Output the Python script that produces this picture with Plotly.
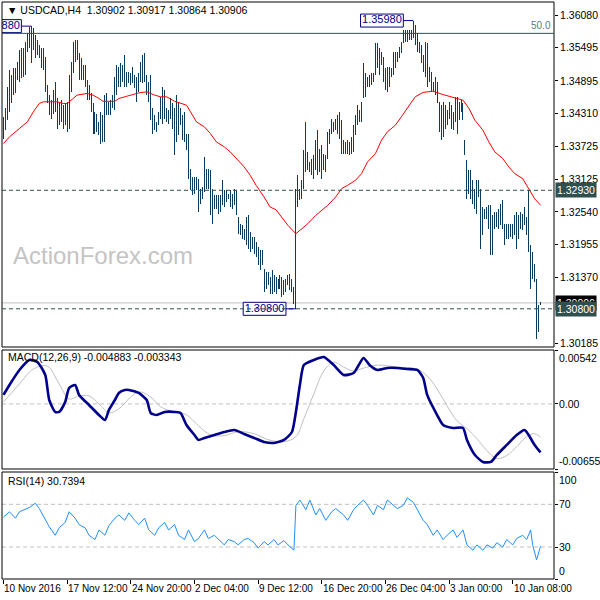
import plotly.graph_objects as go

# ---------------- data ----------------
symbol = "USDCAD,H4"
ohlc_now = [1.30902, 1.30917, 1.30864, 1.30906]   # open high low close of last bar

bar_high = [
    1.3425, 1.3440, 1.3479, 1.3509, 1.3500, 1.3512, 1.3512, 1.3524, 1.3545, 1.3548,
    1.3548, 1.3560, 1.3575, 1.3587, 1.3588, 1.3584, 1.3572, 1.3563, 1.3554, 1.3548,
    1.3548, 1.3533, 1.3482, 1.3464, 1.3455, 1.3473, 1.3488, 1.3458, 1.3452, 1.3455,
    1.3446, 1.3449, 1.3452, 1.3500, 1.3524, 1.3560, 1.3563, 1.3563, 1.3539, 1.3530,
    1.3518, 1.3518, 1.3491, 1.3482, 1.3467, 1.3449, 1.3434, 1.3431, 1.3416, 1.3434,
    1.3428, 1.3464, 1.3467, 1.3452, 1.3455, 1.3464, 1.3497, 1.3518, 1.3515, 1.3521,
    1.3518, 1.3536, 1.3506, 1.3506, 1.3503, 1.3515, 1.3500, 1.3497, 1.3503, 1.3524,
    1.3536, 1.3539, 1.3500, 1.3488, 1.3500, 1.3440, 1.3428, 1.3416, 1.3434, 1.3461,
    1.3479, 1.3473, 1.3440, 1.3437, 1.3458, 1.3449, 1.3440, 1.3464, 1.3452, 1.3440,
    1.3428, 1.3434, 1.3395, 1.3395, 1.3332, 1.3317, 1.3317, 1.3317, 1.3314, 1.3296,
    1.3299, 1.3353, 1.3332, 1.3332, 1.3329, 1.3296, 1.3284, 1.3284, 1.3284, 1.3284,
    1.3311, 1.3293, 1.3293, 1.3287, 1.3293, 1.3287, 1.3296, 1.3293, 1.3245, 1.3233,
    1.3230, 1.3224, 1.3245, 1.3248, 1.3218, 1.3209, 1.3209, 1.3200, 1.3191, 1.3185,
    1.3185, 1.3152, 1.3146, 1.3146, 1.3137, 1.3149, 1.3140, 1.3137, 1.3134, 1.3140,
    1.3137, 1.3131, 1.3134, 1.3140, 1.3143, 1.3134, 1.3119, 1.3296, 1.3320, 1.3296,
    1.3311, 1.3365, 1.3416, 1.3362, 1.3344, 1.3350, 1.3356, 1.3383, 1.3401, 1.3368,
    1.3374, 1.3359, 1.3356, 1.3398, 1.3404, 1.3422, 1.3416, 1.3422, 1.3428, 1.3434,
    1.3419, 1.3383, 1.3380, 1.3383, 1.3380, 1.3389, 1.3410, 1.3428, 1.3446, 1.3437,
    1.3452, 1.3521, 1.3503, 1.3497, 1.3500, 1.3503, 1.3503, 1.3557, 1.3557, 1.3548,
    1.3542, 1.3533, 1.3512, 1.3515, 1.3515, 1.3512, 1.3542, 1.3542, 1.3542, 1.3551,
    1.3560, 1.3581, 1.3581, 1.3581, 1.3581, 1.3581, 1.3598, 1.3590, 1.3575, 1.3560,
    1.3554, 1.3536, 1.3560, 1.3557, 1.3515, 1.3506, 1.3488, 1.3497, 1.3488, 1.3452,
    1.3446, 1.3452, 1.3446, 1.3437, 1.3452, 1.3446, 1.3434, 1.3461, 1.3461, 1.3452,
    1.3455, 1.3449, 1.3383, 1.3347, 1.3329, 1.3329, 1.3311, 1.3296, 1.3311, 1.3311,
    1.3296, 1.3263, 1.3260, 1.3263, 1.3266, 1.3266, 1.3248, 1.3254, 1.3254, 1.3260,
    1.3269, 1.3275, 1.3233, 1.3233, 1.3233, 1.3233, 1.3233, 1.3248, 1.3254, 1.3248,
    1.3254, 1.3251, 1.3263, 1.3245, 1.3293, 1.3194, 1.3182, 1.3161, 1.3134, 1.3086,
    1.30917,
]
bar_low = [
    1.3386, 1.3401, 1.3419, 1.3434, 1.3449, 1.3464, 1.3467, 1.3491, 1.3488, 1.3494,
    1.3497, 1.3500, 1.3542, 1.3548, 1.3521, 1.3545, 1.3530, 1.3536, 1.3530, 1.3512,
    1.3509, 1.3470, 1.3449, 1.3428, 1.3422, 1.3431, 1.3434, 1.3404, 1.3410, 1.3416,
    1.3404, 1.3410, 1.3398, 1.3404, 1.3470, 1.3503, 1.3524, 1.3527, 1.3491, 1.3491,
    1.3491, 1.3479, 1.3455, 1.3455, 1.3434, 1.3395, 1.3395, 1.3398, 1.3392, 1.3377,
    1.3380, 1.3380, 1.3428, 1.3428, 1.3428, 1.3440, 1.3437, 1.3464, 1.3479, 1.3479,
    1.3488, 1.3479, 1.3479, 1.3485, 1.3482, 1.3485, 1.3476, 1.3452, 1.3470, 1.3488,
    1.3485, 1.3488, 1.3464, 1.3452, 1.3419, 1.3395, 1.3401, 1.3398, 1.3410, 1.3422,
    1.3413, 1.3422, 1.3416, 1.3413, 1.3422, 1.3404, 1.3356, 1.3380, 1.3392, 1.3410,
    1.3383, 1.3380, 1.3365, 1.3314, 1.3293, 1.3284, 1.3287, 1.3293, 1.3254, 1.3269,
    1.3278, 1.3290, 1.3296, 1.3296, 1.3248, 1.3233, 1.3260, 1.3260, 1.3251, 1.3254,
    1.3266, 1.3263, 1.3272, 1.3278, 1.3263, 1.3260, 1.3266, 1.3248, 1.3215, 1.3212,
    1.3206, 1.3203, 1.3194, 1.3188, 1.3182, 1.3188, 1.3179, 1.3173, 1.3158, 1.3149,
    1.3158, 1.3110, 1.3116, 1.3122, 1.3107, 1.3107, 1.3110, 1.3107, 1.3116, 1.3116,
    1.3101, 1.3104, 1.3110, 1.3122, 1.3113, 1.3110, 1.3089, 1.3080, 1.3263, 1.3275,
    1.3278, 1.3296, 1.3326, 1.3329, 1.3326, 1.3320, 1.3314, 1.3329, 1.3320, 1.3326,
    1.3314, 1.3329, 1.3326, 1.3350, 1.3377, 1.3395, 1.3398, 1.3401, 1.3395, 1.3386,
    1.3359, 1.3359, 1.3359, 1.3359, 1.3356, 1.3359, 1.3362, 1.3392, 1.3410, 1.3416,
    1.3416, 1.3458, 1.3461, 1.3479, 1.3479, 1.3482, 1.3488, 1.3500, 1.3512, 1.3500,
    1.3518, 1.3488, 1.3473, 1.3470, 1.3479, 1.3497, 1.3500, 1.3512, 1.3524, 1.3530,
    1.3539, 1.3557, 1.3560, 1.3560, 1.3563, 1.3563, 1.3566, 1.3554, 1.3542, 1.3539,
    1.3521, 1.3506, 1.3497, 1.3479, 1.3488, 1.3470, 1.3470, 1.3464, 1.3449, 1.3398,
    1.3383, 1.3389, 1.3404, 1.3410, 1.3422, 1.3404, 1.3401, 1.3416, 1.3395, 1.3419,
    1.3434, 1.3419, 1.3356, 1.3278, 1.3287, 1.3278, 1.3269, 1.3260, 1.3251, 1.3281,
    1.3188, 1.3212, 1.3242, 1.3242, 1.3224, 1.3176, 1.3176, 1.3224, 1.3227, 1.3224,
    1.3230, 1.3224, 1.3194, 1.3206, 1.3206, 1.3209, 1.3206, 1.3212, 1.3188, 1.3206,
    1.3224, 1.3221, 1.3230, 1.3212, 1.3182, 1.3116, 1.3134, 1.3128, 1.3026, 1.3038,
    1.30864,
]

# moving average (red) read at selected bars
ma_bar = [0, 3, 8, 12, 15, 18, 20, 23, 27, 30, 32, 35, 37, 42, 45, 48, 50, 56, 58, 62,
          65, 68, 72, 76, 79, 82, 86, 89, 92, 94, 97, 101, 104, 107, 111, 114, 117, 121, 124, 127,
          131, 134, 137, 140, 143, 147, 150, 153, 157, 160, 163, 167, 170, 173, 177, 180, 183, 187, 190, 193,
          197, 200, 204, 207, 211, 216, 221, 224, 227, 231, 234, 237, 241, 244, 247, 251, 254, 257, 261, 264,
          267, 270]
ma_val = [1.3377, 1.3389, 1.3404, 1.3416, 1.3434, 1.3449, 1.3452, 1.3452, 1.3452, 1.3449,
          1.3449, 1.3458, 1.3464, 1.3467, 1.3464, 1.3458, 1.3453, 1.3453, 1.3458, 1.3462,
          1.3465, 1.3468, 1.3470, 1.3464, 1.3461, 1.3461, 1.3453, 1.3449, 1.3446, 1.3434,
          1.3416, 1.3407, 1.3395, 1.3380, 1.3371, 1.3362, 1.3350, 1.3335, 1.3320, 1.3302,
          1.3281, 1.3263, 1.3258, 1.3245, 1.3230, 1.3215, 1.3224, 1.3233, 1.3248, 1.3257,
          1.3266, 1.3281, 1.3296, 1.3302, 1.3311, 1.3323, 1.3344, 1.3359, 1.3383, 1.3398,
          1.3410, 1.3425, 1.3446, 1.3461, 1.3469, 1.3471, 1.3465, 1.3462, 1.3460, 1.3455,
          1.3440, 1.3419, 1.3401, 1.3380, 1.3362, 1.3350, 1.3335, 1.3323, 1.3314, 1.3296,
          1.3278, 1.3266]

macd_bar = [0, 3, 8, 13, 17, 21, 23, 26, 28, 31, 33, 36, 38, 43, 48, 51, 53, 56, 58, 61,
            63, 68, 72, 74, 77, 81, 86, 89, 92, 96, 98, 101, 106, 111, 116, 121, 126, 131, 136, 141,
            145, 147, 149, 151, 156, 161, 166, 171, 176, 181, 184, 188, 193, 198, 203, 208, 211, 213, 218, 221,
            226, 231, 233, 237, 241, 245, 248, 253, 258, 262, 264, 267, 270]
macd_val = [0.00090, 0.00190, 0.00341, 0.00442, 0.00422, 0.00291, 0.00039, -0.00081, -0.00081, 0.00019,
            0.00160, 0.00190, 0.00090, -0.00011, -0.00112, -0.00162, -0.00061, 0.00039, 0.00110, 0.00140,
            0.00140, 0.00110, 0.00039, -0.00092, -0.00112, -0.00081, -0.00081, -0.00092, -0.00212, -0.00313,
            -0.00363, -0.00343, -0.00313, -0.00283, -0.00263, -0.00303, -0.00343, -0.00383, -0.00393, -0.00363,
            -0.00283, -0.00081, 0.00190, 0.00391, 0.00442, 0.00472, 0.00391, 0.00291, 0.00311, 0.00462,
            0.00391, 0.00341, 0.00361, 0.00361, 0.00351, 0.00341, 0.00261, 0.00090, -0.00112, -0.00212,
            -0.00242, -0.00242, -0.00363, -0.00514, -0.00584, -0.00584, -0.00514, -0.00413, -0.00313, -0.00263,
            -0.00313, -0.00413, -0.004883]
sig_bar = [0, 8, 15, 22, 28, 33, 38, 43, 48, 53, 58, 63, 68, 74, 79, 86, 92, 98, 104, 111,
           118, 126, 133, 141, 147, 151, 156, 161, 166, 171, 176, 181, 188, 198, 208, 213, 218, 223, 228, 233,
           238, 243, 248, 253, 258, 263, 267, 270]
sig_val = [0.0002, 0.0020, 0.0035, 0.0038, 0.0020, 0.0005, 0.0008, 0.0008, 0.0000, -0.0009,
           -0.0005, 0.0005, 0.0012, 0.0007, -0.0003, -0.0008, -0.0011, -0.0022, -0.0031, -0.0032,
           -0.0028, -0.0030, -0.0036, -0.0038, -0.0033, -0.0015, 0.0010, 0.0033, 0.0042, 0.0037,
           0.0033, 0.0036, 0.0039, 0.0037, 0.0035, 0.0028, 0.0015, -0.0002, -0.0017, -0.0025,
           -0.0035, -0.0047, -0.0055, -0.0052, -0.0043, -0.0033, -0.0030, -0.003343]

rsi_bar = [0, 3, 6, 8, 13, 16, 18, 21, 23, 26, 28, 31, 33, 36, 38, 41, 43, 46, 48, 51,
           53, 56, 58, 61, 63, 66, 68, 71, 73, 76, 78, 81, 83, 86, 88, 91, 93, 96, 98, 101,
           103, 106, 108, 111, 113, 116, 118, 121, 123, 126, 128, 131, 133, 136, 138, 141, 143, 146, 147, 149,
           152, 154, 157, 159, 162, 165, 167, 171, 173, 176, 178, 181, 183, 186, 188, 191, 193, 196, 198, 201,
           203, 206, 208, 211, 213, 216, 218, 221, 223, 226, 228, 231, 233, 236, 238, 241, 243, 246, 248, 251,
           253, 256, 258, 261, 263, 265, 266, 268, 270]
rsi_val = [58, 63, 57, 63, 67, 71, 66, 55, 49, 41, 48, 53, 63, 57, 51, 48, 41, 37, 46, 41,
           50, 57, 60, 55, 62, 55, 51, 57, 46, 41, 48, 53, 46, 51, 41, 37, 46, 35, 38, 46,
           38, 41, 37, 32, 37, 35, 32, 37, 38, 34, 29, 35, 32, 37, 32, 36, 32, 27, 69, 74,
           65, 74, 60, 66, 55, 63, 66, 60, 55, 65, 69, 74, 69, 60, 69, 65, 74, 69, 66, 69,
           76, 72, 65, 55, 51, 41, 46, 37, 41, 46, 39, 46, 32, 27, 32, 27, 32, 29, 34, 30,
           37, 32, 38, 41, 37, 46, 32, 18, 30.74]

date_ticks = [0, 32, 64, 96, 128, 160, 192, 224, 256]
date_labels = ["10 Nov 2016", "17 Nov 12:00", "24 Nov 20:00", "2 Dec 04:00", "9 Dec 12:00",
               "16 Dec 20:00", "26 Dec 04:00", "3 Jan 00:00", "10 Jan 08:00"]
price_ticks = [1.36080, 1.35495, 1.34895, 1.34310, 1.33725, 1.33125, 1.32540,
               1.31955, 1.31370, 1.30185]
level_resist = 1.32930
level_support = 1.30800
fib_50 = 1.3575
macd_last, signal_last, rsi_last = -0.004883, -0.003343, 30.7394
macd_max, macd_min = 0.00542, -0.006551
rsi_levels = [70, 30]

# --------------- layout helpers ---------------
W, H = 600, 600
L, R, T, B = 2, 43, 2, 21
PW, PH = W - L - R, H - T - B
PX_PER_BAR = 2.0
PRICE_PER_PX = 0.0001797


def py(p):  # pixel y -> paper y
    return 1 - (p - T) / PH


def pxx(p):  # pixel x -> paper x
    return (p - L) / PW


FONT = "Tahoma, 'Liberation Sans', Arial, sans-serif"
BAR_C = "#0b3c5d"
NAVY = "#000080"
SLATE = "#2f4f4f"

fig = go.Figure()

# OHLC bars (high-low lines)
bx, byv = [], []
for i, (h, l) in enumerate(zip(bar_high, bar_low)):
    bx += [i, i, None]
    byv += [l, h, None]
fig.add_trace(go.Scatter(x=bx, y=byv, mode="lines", line=dict(color=BAR_C, width=1),
                         hoverinfo="skip", xaxis="x", yaxis="y"))
fig.add_trace(go.Scatter(x=ma_bar, y=ma_val, mode="lines", line=dict(color="#ff0000", width=1),
                         hoverinfo="skip", xaxis="x", yaxis="y"))
# MACD
fig.add_trace(go.Scatter(x=sig_bar, y=sig_val, mode="lines", line=dict(color="#c0c0c0", width=1, shape="spline"),
                         hoverinfo="skip", xaxis="x", yaxis="y2"))
fig.add_trace(go.Scatter(x=macd_bar, y=macd_val, mode="lines",
                         line=dict(color="#00008b", width=2.6, shape="spline", smoothing=0.6),
                         hoverinfo="skip", xaxis="x", yaxis="y2"))
# RSI
fig.add_trace(go.Scatter(x=rsi_bar, y=rsi_val, mode="lines", line=dict(color="#1e90ff", width=1),
                         hoverinfo="skip", xaxis="x", yaxis="y3"))

n = len(bar_high)
last_close = ohlc_now[3]
x_lo, x_hi = -0.75, -0.75 + PW / PX_PER_BAR

main_dom = [py(347), 1.0]
macd_dom = [py(469), py(350)]
rsi_dom = [0.0, py(472)]
price_top = 1.36080 + (15 - 2) * PRICE_PER_PX
price_bot = 1.36080 - (347 - 15) * PRICE_PER_PX

axis_common = dict(showgrid=False, zeroline=False, side="right", ticks="outside", ticklen=3,
                   tickcolor="black", showline=False, fixedrange=True)

fig.update_layout(
    width=W, height=H, margin=dict(l=L, r=R, t=T, b=B),
    paper_bgcolor="white", plot_bgcolor="white", showlegend=False,
    xaxis=dict(range=[x_lo, x_hi], anchor="y3", showgrid=False, zeroline=False,
               tickvals=date_ticks, showticklabels=False, ticks="outside", ticklen=4,
               tickcolor="black", showline=False, fixedrange=True),
    yaxis=dict(domain=main_dom, range=[price_bot, price_top], anchor="x",
               tickvals=price_ticks, ticktext=[f"{v:.5f}" for v in price_ticks],
               tickfont=dict(family=FONT, size=10.5, color="black"), **axis_common),
    yaxis2=dict(domain=macd_dom, range=[macd_min, macd_max], anchor="x",
                tickvals=[macd_max, 0, macd_min], showticklabels=False, **axis_common),
    yaxis3=dict(domain=rsi_dom, range=[0, 100.3], anchor="x",
                tickvals=[100, 70, 30, 0], showticklabels=False, **axis_common),
)

shapes = []
# panel frames
for dom in (main_dom, macd_dom, rsi_dom):
    shapes.append(dict(type="rect", xref="paper", yref="paper", x0=0, x1=1, y0=dom[0], y1=dom[1],
                       line=dict(color="black", width=1), layer="above"))
# level lines main
shapes.append(dict(type="line", xref="paper", yref="y", x0=0, x1=1, y0=fib_50, y1=fib_50,
                   line=dict(color=SLATE, width=1)))
shapes.append(dict(type="line", xref="paper", yref="y", x0=0, x1=1, y0=last_close, y1=last_close,
                   line=dict(color="#c0c0c0", width=1), layer="below"))
for lv in (level_resist, level_support):
    shapes.append(dict(type="line", xref="paper", yref="y", x0=0, x1=1, y0=lv, y1=lv,
                       line=dict(color=SLATE, width=1, dash="4px,3px")))
# indicator levels
shapes.append(dict(type="line", xref="paper", yref="y2", x0=0, x1=1, y0=0, y1=0,
                   line=dict(color="#c0c0c0", width=1, dash="4px,3px"), layer="below"))
for lv in rsi_levels:
    shapes.append(dict(type="line", xref="paper", yref="y3", x0=0, x1=1, y0=lv, y1=lv,
                       line=dict(color="#c0c0c0", width=1, dash="4px,3px"), layer="below"))

annotations = []
# high/low marker boxes: box shape + clipped text (like the terminal, clipped at chart edge)
hi_idx = max(range(150, n), key=lambda i: bar_high[i])
hi2_idx = max(range(0, 60), key=lambda i: bar_high[i])
lo_idx = min(range(100, 200), key=lambda i: bar_low[i])
gap_bars = 5            # 10 px connector
box_w_bars = 21.5       # 43 px wide box
box_h = 6.5 * PRICE_PER_PX
box_tx, box_ty, box_tt = [], [], []
for idx, val in ((hi_idx, bar_high[hi_idx]), (hi2_idx, bar_high[hi2_idx]), (lo_idx, bar_low[lo_idx])):
    right = idx - gap_bars
    shapes.append(dict(type="line", xref="x", yref="y", x0=right, x1=idx, y0=val, y1=val,
                       line=dict(color=NAVY, width=1)))
    shapes.append(dict(type="rect", xref="x", yref="y", x0=right - box_w_bars, x1=right,
                       y0=val - box_h, y1=val + box_h, fillcolor="white",
                       line=dict(color=NAVY, width=1), layer="below"))
    box_tx.append(right - box_w_bars / 2)
    box_ty.append(val)
    box_tt.append(f"{val:.5f}")
fig.add_trace(go.Scatter(x=box_tx, y=box_ty, text=box_tt, mode="text", textposition="middle center",
                         textfont=dict(family=FONT, size=11, color=NAVY), hoverinfo="skip",
                         xaxis="x", yaxis="y", cliponaxis=True))

# header texts
annotations.append(dict(x=pxx(5), y=py(10), xref="paper", yref="paper", xanchor="left", yanchor="middle",
                        showarrow=False, font=dict(family=FONT, size=10.5, color="black"),
                        text="\u25BC " + symbol + "  " + " ".join(f"{v:.5f}" for v in ohlc_now)))
annotations.append(dict(x=pxx(6), y=py(357), xref="paper", yref="paper", xanchor="left", yanchor="middle",
                        showarrow=False, font=dict(family=FONT, size=10.5, color="black"),
                        text=f"MACD(12,26,9) {macd_last:.6f} {signal_last:.6f}"))
annotations.append(dict(x=pxx(6), y=py(481), xref="paper", yref="paper", xanchor="left", yanchor="middle",
                        showarrow=False, font=dict(family=FONT, size=10.5, color="black"),
                        text=f"RSI(14) {rsi_last:.4f}"))
# watermark
annotations.append(dict(x=pxx(11), y=py(255), xref="paper", yref="paper", xanchor="left", yanchor="middle",
                        showarrow=False, font=dict(family="'Liberation Sans', Arial, sans-serif", size=24,
                                                   color="#c4c4c4"),
                        text="ActionForex.com"))
# fib label
annotations.append(dict(x=1, y=fib_50, xref="paper", yref="y", xanchor="right", yanchor="bottom",
                        xshift=-1, showarrow=False, font=dict(family=FONT, size=10, color="#5a7a8a"),
                        text="50.0"))
# right price tags
for val, bg in ((last_close, "black"), (level_resist, SLATE), (level_support, SLATE)):
    annotations.append(dict(x=1, y=val, xref="paper", yref="y", xanchor="left", yanchor="middle",
                            xshift=1, showarrow=False, bgcolor=bg, borderpad=1,
                            font=dict(family=FONT, size=10.5, color="white"), text=f"{val:.5f}"))
# MACD / RSI scale labels
lab = dict(family=FONT, size=10.5, color="black")
annotations += [
    dict(x=1, y=1, xref="paper", yref="y2 domain", xanchor="left", yanchor="top", xshift=3,
         showarrow=False, font=lab, text=f"{macd_max:.5f}"),
    dict(x=1, y=0, xref="paper", yref="y2", xanchor="left", yanchor="middle", xshift=3,
         showarrow=False, font=lab, text="0.00"),
    dict(x=1, y=0, xref="paper", yref="y2 domain", xanchor="left", yanchor="bottom", xshift=3,
         showarrow=False, font=lab, text=f"{macd_min:.6f}"),
    dict(x=1, y=1, xref="paper", yref="y3 domain", xanchor="left", yanchor="top", xshift=3,
         showarrow=False, font=lab, text="100"),
    dict(x=1, y=0, xref="paper", yref="y3 domain", xanchor="left", yanchor="bottom", xshift=3,
         showarrow=False, font=lab, text="0"),
]
for lv in rsi_levels:
    annotations.append(dict(x=1, y=lv, xref="paper", yref="y3", xanchor="left", yanchor="middle", xshift=3,
                            showarrow=False, font=lab, text=str(lv)))
# date labels
for t, s in zip(date_ticks, date_labels):
    annotations.append(dict(x=t, y=py(588), xref="x", yref="paper", xanchor="left", yanchor="middle",
                            xshift=-1, showarrow=False, font=dict(family=FONT, size=10, color="black"),
                            text=s))

fig.update_layout(shapes=shapes, annotations=annotations)
fig.write_html(
    "out.html",
    config={"displayModeBar": False},
    post_script=(
        "document.body.style.margin='0';document.body.style.padding='0';"
        "document.body.style.overflow='hidden';"
        "var s=document.createElement('style');"
        "s.innerHTML='.subplot.xy .scatterlayer .trace:first-child path.js-line{shape-rendering:crispEdges}';"
        "document.head.appendChild(s);"
    ),
)
